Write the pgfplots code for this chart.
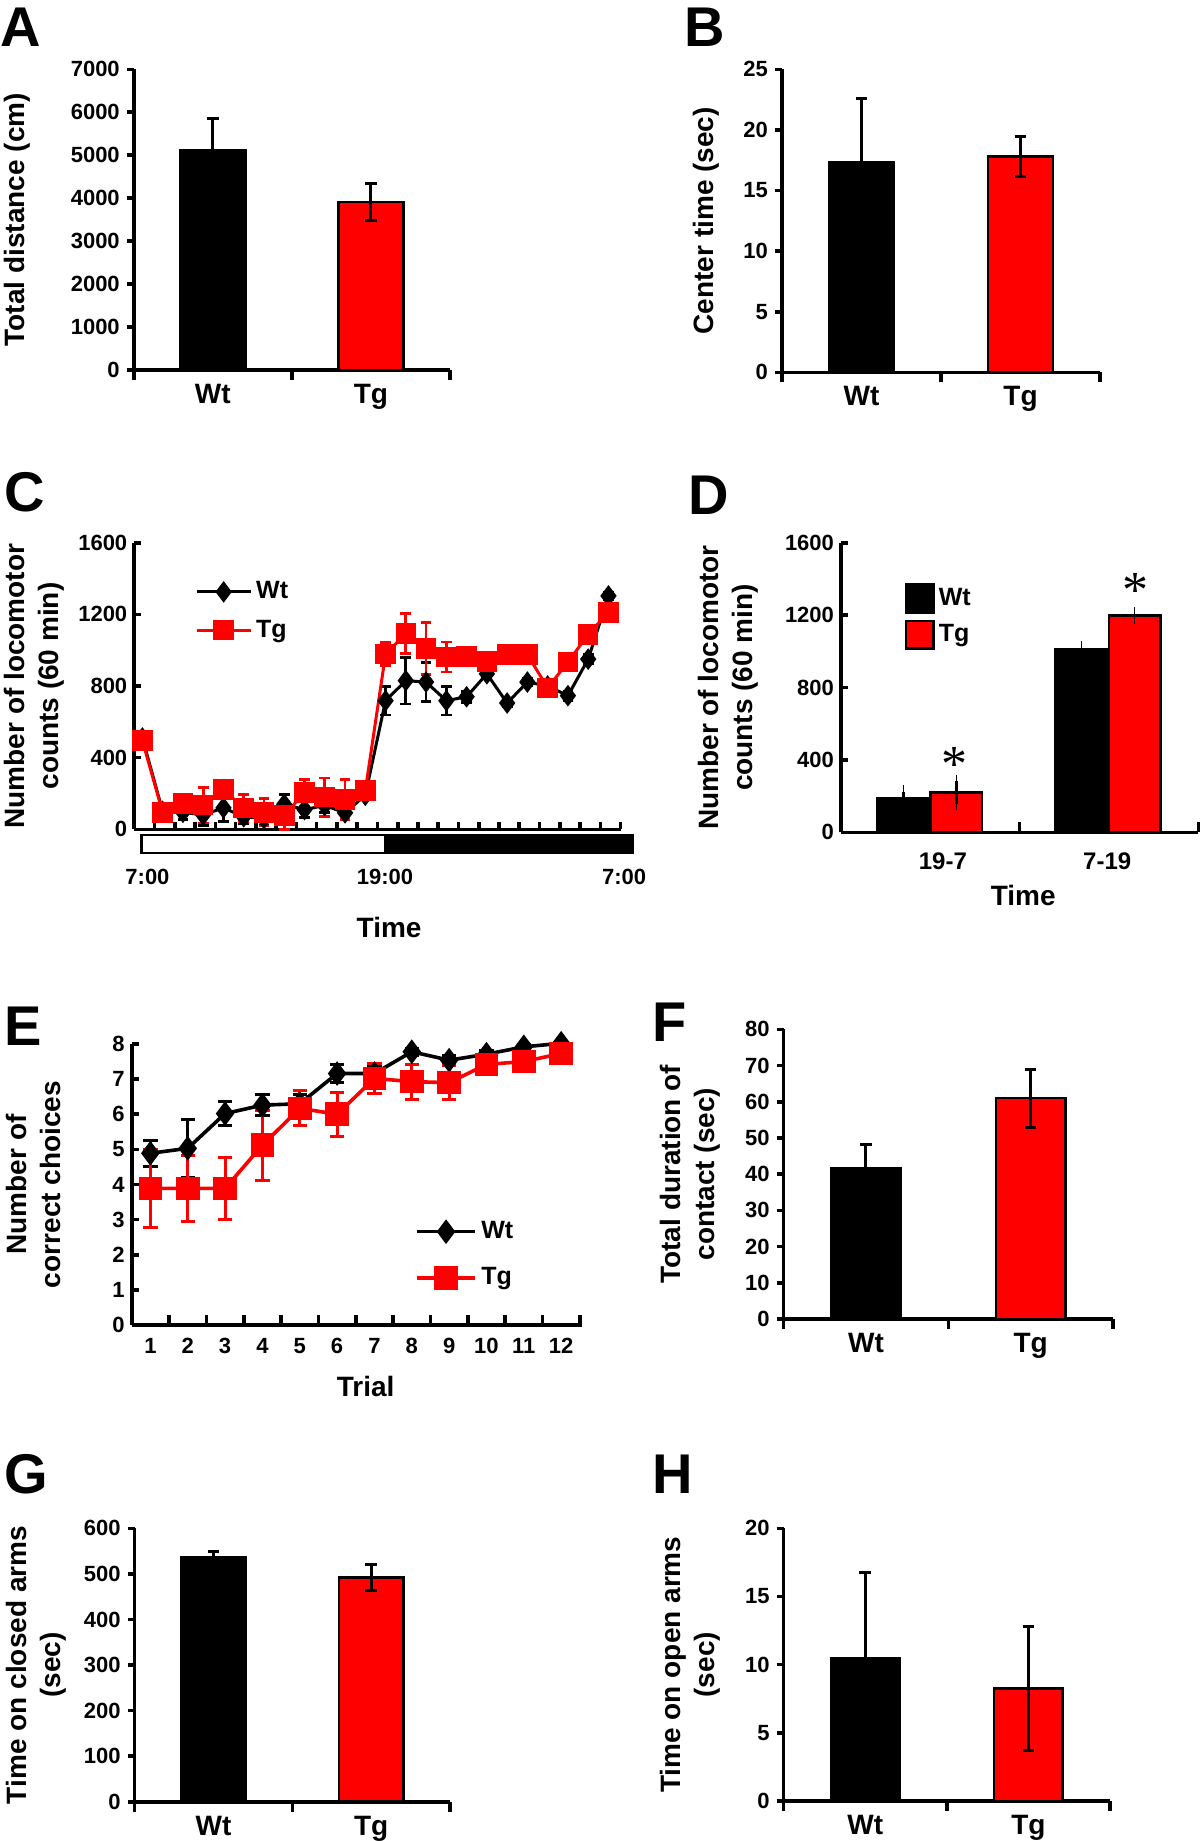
\documentclass[border=0pt]{standalone}
\usepackage{fontspec}
\setmainfont{Liberation Sans}
\newfontfamily\seriffont{Liberation Serif}
\usepackage{pgfplots}
\pgfplotsset{compat=1.18}
\pgfplotsset{
  base/.style={
    scale only axis, anchor=south west,
    axis lines*=left,
    axis line style={line width=1.8pt},
    tick style={black, line width=1.8pt},
    major tick length=3.5pt, minor tick length=5pt,
    tick label style={font=\fontsize{11}{13}\selectfont\bfseries},
    label style={font=\fontsize{14}{17}\selectfont\bfseries, align=center},
    /pgf/number format/assume math mode=true,
    /pgf/number format/1000 sep={},
    clip=false, ymin=0,
  },
  barpanel/.style={
    base, xmin=0, xmax=2,
    xtick={0.5,1.5}, xticklabels={Wt,Tg},
    minor xtick={0,1,2},
    major x tick style={draw=none},
    tick align=outside,
    xticklabel style={font=\fontsize{14}{17}\selectfont\bfseries},
  },
  barbase/.style={ybar, bar width=0.41, bar shift=0pt, draw=black, line width=1.3pt},
  barerr/.style={error bars/.cd, y dir=both, y explicit,
    error bar style={black, line width=1.5pt},
    error mark options={rotate=90, black, line width=1.5pt, mark size=2.9pt}},
  linelegend/.style={legend image code/.code={\draw[mark repeat=2,mark phase=2,##1] plot coordinates {(0pt,0pt) (13.5pt,0pt) (27pt,0pt)};}},
  elinelegend/.style={legend image code/.code={\draw[mark repeat=2,mark phase=2,##1] plot coordinates {(0pt,0pt) (14.7pt,0pt) (29.4pt,0pt)};}},
  sqlegend/.style={legend image code/.code={\draw[##1] (0pt,-6.9pt) rectangle (13.8pt,6.9pt);}},
}
\newcommand{\panel}[1]{{\fontsize{28}{28}\selectfont\bfseries #1}}
\begin{document}
\begin{tikzpicture}
\useasboundingbox (0,0) rectangle (600pt,-920.5pt);
% panel letters
\node[anchor=base west, inner sep=0pt] at (0pt,-23.5pt) {\panel{A}};
\node[anchor=base west, inner sep=0pt] at (342pt,-23.5pt) {\panel{B}};
\node[anchor=base west, inner sep=0pt] at (2pt,-255.5pt) {\panel{C}};
\node[anchor=base west, inner sep=0pt] at (344pt,-257pt) {\panel{D}};
\node[anchor=base west, inner sep=0pt] at (2pt,-522.5pt) {\panel{E}};
\node[anchor=base west, inner sep=0pt] at (326pt,-520.5pt) {\panel{F}};
\node[anchor=base west, inner sep=0pt] at (2pt,-746.5pt) {\panel{G}};
\node[anchor=base west, inner sep=0pt] at (326pt,-746.5pt) {\panel{H}};

% ---------- A ----------
\begin{axis}[barpanel, at={(66.9pt,-185pt)}, width=158.1pt, height=150.35pt,
  ymax=7000, ytick={0,1000,...,7000},
  ylabel={Total distance (cm)},
  ylabel style={at={(axis description cs:-0.368,0.5)}, anchor=center}]
\addplot[barbase, fill=black, barerr] coordinates {(0.5,5120) +- (0,740)};
\addplot[barbase, fill=red, barerr] coordinates {(1.5,3910) +- (0,440)};
\end{axis}

% ---------- B ----------
\begin{axis}[barpanel, at={(391pt,-186.15pt)}, width=159pt, height=151.5pt,
  ymax=25, ytick={0,5,...,25},
  ylabel={Center time (sec)},
  ylabel style={at={(axis description cs:-0.239,0.5)}, anchor=center}]
\addplot[barbase, fill=black, barerr] coordinates {(0.5,17.3) +- (0,5.3)};
\addplot[barbase, fill=red, barerr] coordinates {(1.5,17.8) +- (0,1.65)};
\end{axis}

% ---------- C ----------
\begin{axis}[base, at={(67.15pt,-414.65pt)}, width=243.15pt, height=143.3pt,
  xmin=0, xmax=24, ymax=1600, ytick={0,400,...,1600},
  xtick={1,...,24}, xticklabels={},
  tick align=inside,
  ylabel={Number of locomotor\\counts (60 min)},
  ylabel style={at={(axis description cs:-0.205,0.5)}, anchor=center},
  xlabel={Time}, xlabel style={at={(axis description cs:0.524,-0.344)}, anchor=center},
  legend style={at={(axis description cs:0.112,0.893)}, anchor=north west, draw=none, fill=none,
    font=\fontsize{12.5}{14}\selectfont\bfseries, row sep=5pt},
  legend cell align=left]
\addlegendimage{linelegend, black, line width=1.5pt, mark=diamond*, mark size=4.2pt}
\addlegendentry{Wt}
\addlegendimage{linelegend, red, line width=1.5pt, mark=square*, mark size=4.4pt}
\addlegendentry{Tg}
\addplot[black, line width=1.5pt, mark=diamond*, mark size=4.2pt, forget plot,
  error bars/.cd, y dir=both, y explicit, error bar style={line width=1.4pt},
  error mark options={rotate=90, line width=1.4pt, mark size=2.7pt}]
  table[x=x, y=y, y error=e] {
x y e
0.4 510 20
1.4 100 20
2.4 95 40
3.4 80 60
4.4 120 75
5.4 70 40
6.4 60 40
7.4 140 55
8.4 110 45
9.4 133 40
10.4 92 40
11.4 190 25
12.4 718 80
13.4 830 130
14.4 822 110
15.4 718 80
16.4 740 30
17.4 868 20
18.4 705 20
19.4 822 20
20.4 800 20
21.4 746 25
22.4 950 25
23.4 1303 20
};
\addplot[red, line width=1.5pt, mark=square*, mark size=4.4pt, forget plot,
  error bars/.cd, y dir=both, y explicit, error bar style={line width=1.4pt},
  error mark options={rotate=90, line width=1.4pt, mark size=2.7pt}]
  table[x=x, y=y, y error=e] {
x y e
0.4 495 25
1.4 95 25
2.4 145 40
3.4 135 100
4.4 222 40
5.4 118 75
6.4 95 76
7.4 78 78
8.4 205 75
9.4 180 107
10.4 167 113
11.4 215 40
12.4 978 65
13.4 1093 112
14.4 1008 145
15.4 962 84
16.4 966 25
17.4 938 25
18.4 975 25
19.4 975 25
20.4 790 25
21.4 933 25
22.4 1088 25
23.4 1212 30
};
\draw[line width=1.2pt, fill=white] (axis cs:0.36,-32) rectangle (axis cs:12.4,-132);
\fill[black] (axis cs:12.4,-32) rectangle (axis cs:24.6,-132);
\draw[line width=1.2pt] (axis cs:0.36,-32) rectangle (axis cs:24.6,-132);
\node[font=\fontsize{11}{13}\selectfont\bfseries] at (axis cs:0.65,-266) {7:00};
\node[font=\fontsize{11}{13}\selectfont\bfseries] at (axis cs:12.37,-266) {19:00};
\node[font=\fontsize{11}{13}\selectfont\bfseries] at (axis cs:24.17,-266) {7:00};
\end{axis}

% ---------- D ----------
\begin{axis}[base, at={(420.5pt,-416.15pt)}, width=178.65pt, height=144.8pt,
  xmin=0, xmax=2, ymax=1600, ytick={0,400,...,1600},
  xtick={0.57,1.49}, xticklabels={19-7,7-19}, minor xtick={0,1,2},
  major x tick style={draw=none},
  tick align=inside,
  xticklabel style={yshift=-6.5pt, font=\fontsize{12}{14}\selectfont\bfseries},
  ylabel={Number of locomotor\\counts (60 min)},
  ylabel style={at={(axis description cs:-0.316,0.5)}, anchor=center},
  xlabel={Time}, xlabel style={at={(axis description cs:0.51,-0.2165)}, anchor=center},
  legend style={at={(axis description cs:0.16,0.875)}, anchor=north west, draw=none, fill=none,
    font=\fontsize{12.5}{14}\selectfont\bfseries, row sep=3pt},
  legend cell align=left]
\addlegendimage{sqlegend, fill=black, draw=black, line width=1.3pt}
\addlegendentry{Wt}
\addlegendimage{sqlegend, fill=red, draw=black, line width=1.3pt}
\addlegendentry{Tg}
\addplot[barbase, bar width=0.29, fill=black, forget plot, barerr, error mark options={mark size=3.3pt}]
  coordinates {(0.35,190) +- (0,35) (1.345,1012) +- (0,8)};
\addplot[barbase, bar width=0.29, fill=red, forget plot, barerr, error mark options={mark size=3.3pt}]
  coordinates {(0.645,219) +- (0,62) (1.645,1197) +- (0,10)};
\node[font=\seriffont\fontsize{26}{26}\selectfont] at (axis cs:0.638,375) {*};
\node[font=\seriffont\fontsize{26}{26}\selectfont] at (axis cs:1.646,1337) {*};
\end{axis}

% ---------- E ----------
\begin{axis}[base, at={(65.85pt,-662.5pt)}, width=225pt, height=140.5pt,
  xmin=0.5, xmax=12.55, ymax=8, ytick={0,1,...,8},
  xtick={1,...,12}, major x tick style={draw=none}, minor xtick={1.5,2.5,...,12.5},
  tick align=inside,
  xticklabel style={yshift=-3pt},
  ylabel={Number of\\correct choices},
  ylabel style={at={(axis description cs:-0.218,0.5)}, anchor=center},
  xlabel={Trial}, xlabel style={at={(axis description cs:0.52,-0.22)}, anchor=center},
  legend style={at={(axis description cs:0.615,0.398)}, anchor=north west, draw=none, fill=none,
    font=\fontsize{12.5}{14}\selectfont\bfseries, row sep=9pt},
  legend cell align=left]
\addlegendimage{elinelegend, black, line width=1.8pt, mark=diamond*, mark size=4.7pt}
\addlegendentry{Wt}
\addlegendimage{elinelegend, red, line width=1.8pt, mark=square*, mark size=5pt}
\addlegendentry{Tg}
\addplot[black, line width=1.8pt, mark=diamond*, mark size=4.7pt, forget plot,
  error bars/.cd, y dir=both, y explicit, error bar style={line width=1.5pt},
  error mark options={rotate=90, line width=1.5pt, mark size=3.6pt}]
  table[x=x, y=y, y error=e] {
x y e
1 4.89 0.37
2 5.03 0.82
3 6.02 0.35
4 6.26 0.30
5 6.30 0.25
6 7.16 0.25
7 7.16 0.20
8 7.78 0.10
9 7.54 0.12
10 7.71 0.10
11 7.92 0.06
12 8.02 0.05
};
\addplot[red, line width=1.8pt, mark=square*, mark size=5pt, forget plot,
  error bars/.cd, y dir=both, y explicit, error bar style={line width=1.5pt},
  error mark options={rotate=90, line width=1.5pt, mark size=3.6pt}]
  table[x=x, y=y, y error=e] {
x y e
1 3.89 1.10
2 3.89 0.95
3 3.89 0.88
4 5.12 1.00
5 6.17 0.50
6 6.00 0.62
7 7.02 0.42
8 6.93 0.50
9 6.90 0.48
10 7.42 0.20
11 7.50 0.20
12 7.73 0.15
};
\end{axis}

% ---------- F ----------
\begin{axis}[barpanel, at={(391.8pt,-659.5pt)}, width=164.7pt, height=144.85pt,
  ymax=80, ytick={0,10,...,80},
  ylabel={Total duration of\\contact (sec)},
  ylabel style={at={(axis description cs:-0.284,0.5)}, anchor=center}]
\addplot[barbase, bar width=0.42, fill=black, barerr] coordinates {(0.5,41.6) +- (0,6.7)};
\addplot[barbase, bar width=0.42, fill=red, barerr] coordinates {(1.5,61.0) +- (0,8.0)};
\end{axis}

% ---------- G ----------
\begin{axis}[barpanel, at={(67.3pt,-900.85pt)}, width=157.7pt, height=136.7pt,
  ymax=600, ytick={0,100,...,600},
  ylabel={Time on closed arms\\(sec)},
  ylabel style={at={(axis description cs:-0.313,0.5)}, anchor=center}]
\addplot[barbase, fill=black, barerr] coordinates {(0.5,536) +- (0,12.6)};
\addplot[barbase, fill=red, barerr] coordinates {(1.5,492) +- (0,29)};
\end{axis}

% ---------- H ----------
\begin{axis}[barpanel, at={(391.8pt,-900.5pt)}, width=163.2pt, height=136.35pt,
  ymax=20, ytick={0,5,...,20},
  ylabel={Time on open arms\\(sec)},
  ylabel style={at={(axis description cs:-0.287,0.5)}, anchor=center}]
\addplot[barbase, bar width=0.42, fill=black, barerr] coordinates {(0.5,10.46) +- (0,6.3)};
\addplot[barbase, bar width=0.42, fill=red, barerr] coordinates {(1.5,8.26) +- (0,4.56)};
\end{axis}
\end{tikzpicture}
\end{document}
